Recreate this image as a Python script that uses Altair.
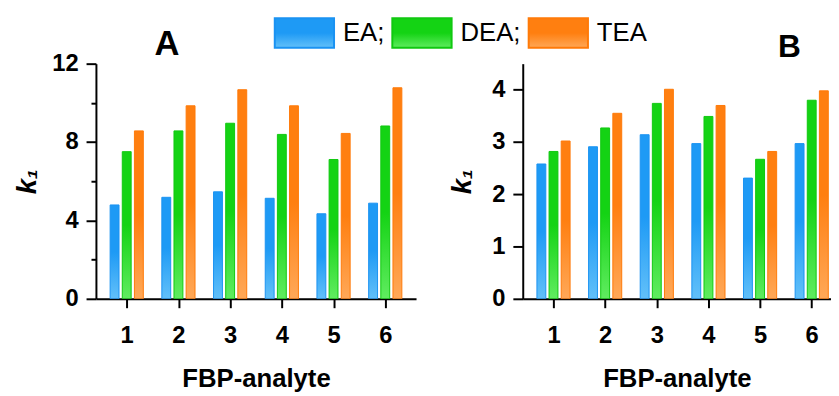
import altair as alt
import pandas as pd

analytes = [1, 2, 3, 4, 5, 6]
series = ["EA", "DEA", "TEA"]

a_ea = [4.79, 5.18, 5.46, 5.13, 4.34, 4.88]
a_dea = [7.51, 8.57, 8.96, 8.39, 7.11, 8.82]
a_tea = [8.57, 9.85, 10.67, 9.85, 8.44, 10.77]

b_ea = [2.58, 2.91, 3.14, 2.97, 2.31, 2.97]
b_dea = [2.82, 3.27, 3.74, 3.49, 2.67, 3.80]
b_tea = [3.02, 3.55, 4.01, 3.70, 2.82, 3.98]

a_yticks = [0, 2, 4, 6, 8, 10, 12]
b_yticks = [0, 0.5, 1, 1.5, 2, 2.5, 3, 3.5, 4, 4.5]


def frame(ea, dea, tea):
    rows = []
    for s, vals in zip(series, [ea, dea, tea]):
        for a, v in zip(analytes, vals):
            rows.append({"analyte": a, "series": s, "k1": v})
    return pd.DataFrame(rows)


FONT = "Arial, Liberation Sans, sans-serif"


def grad(top, bottom):
    return alt.ExprRef(
        expr="{gradient:'linear',x1:0,y1:0,x2:0,y2:1,stops:[{offset:0,color:'%s'},"
        "{offset:0.5,color:'%s'},{offset:1,color:'%s'}]}" % (top, top, bottom)
    )


color_scale = alt.Scale(
    domain=series,
    range=[grad("#1E9AF5", "#62C0F9"), grad("#14D314", "#60EC60"), grad("#FF7F10", "#FFA858")],
)
stroke_scale = alt.Scale(domain=series, range=["#1A92F2", "#10C810", "#FF7A08"])

legend = alt.Legend(
    title=None,
    orient="none",
    legendX=195,
    legendY=-47,
    direction="horizontal",
    symbolType="M-2,-1H2V1H-2Z",
    symbolSize=900,
    symbolStrokeWidth=2,
    labelFont=FONT,
    labelFontSize=26,
    labelColor="black",
    labelOffset=23,
    columnPadding=4,
    padding=0,
    labelExpr="datum.label == 'TEA' ? datum.label : datum.label + ';'",
)


def panel(df, ymax, yticks, major_test, xmax, width, title_text, tx, ty, tsize, tpad):
    base = alt.Chart(df).transform_calculate(
        xpos="datum.analyte + (indexof(['EA','DEA','TEA'], datum.series) - 1) * 0.235"
    )
    bars = base.mark_bar(size=9, clip=True, strokeWidth=1).encode(
        x=alt.X(
            "xpos:Q",
            scale=alt.Scale(domain=[0.5, xmax], nice=False, zero=False),
            axis=alt.Axis(
                values=analytes,
                format="d",
                title="FBP-analyte",
                grid=False,
                tickSize=9,
                tickWidth=2,
                tickColor="black",
                domainColor="black",
                domainWidth=2,
                labelFont=FONT,
                labelFontSize=24,
                labelFontWeight="bold",
                labelColor="black",
                labelPadding=16,
                titleFont=FONT,
                titleFontSize=26,
                titleFontWeight="bold",
                titleColor="black",
                titlePadding=19,
            ),
        ),
        y=alt.Y(
            "k1:Q",
            scale=alt.Scale(domain=[0, ymax], nice=False),
            axis=alt.Axis(
                values=yticks,
                format="d",
                labelExpr=major_test + " ? datum.label : ''",
                tickSize={"condition": {"test": major_test, "value": 10}, "value": 5},
                tickWidth=2,
                tickColor="black",
                domainColor="black",
                domainWidth=2,
                grid=False,
                title="k₁",
                labelFont=FONT,
                labelFontSize=24,
                labelFontWeight="bold",
                labelColor="black",
                labelPadding=8,
                titleFont=FONT,
                titleFontSize=28,
                titleFontWeight="bold",
                titleFontStyle="italic",
                titleColor="black",
                titlePadding=tpad,
            ),
        ),
        color=alt.Color("series:N", scale=color_scale, legend=legend),
        stroke=alt.Stroke("series:N", scale=stroke_scale, legend=legend),
    )
    label = alt.Chart(pd.DataFrame({"t": [title_text]})).mark_text(
        font=FONT, fontSize=tsize, fontWeight="bold", color="black", align="center", baseline="alphabetic"
    ).encode(text="t:N", x=alt.value(tx), y=alt.value(ty))
    return alt.layer(bars, label).properties(width=width, height=238)


chart_a = panel(frame(a_ea, a_dea, a_tea), 12, a_yticks, "datum.value % 4 == 0", 6.5, 324, "A", 72, -9, 35, 10)
chart_b = panel(frame(b_ea, b_dea, b_tea), 4.5, b_yticks, "datum.value % 1 == 0", 0.5 + 312 / 54, 312, "B", 270, -7, 32, 16)

chart = (
    alt.hconcat(chart_a, chart_b, spacing=108, bounds="flush")
    .resolve_scale(color="shared", stroke="shared")
    .properties(padding={"left": 6, "top": 7, "right": 0, "bottom": 0}, background="white")
    .configure_view(stroke=None)
)

chart.save("out.html", embed_options={"renderer": "svg", "actions": False})
